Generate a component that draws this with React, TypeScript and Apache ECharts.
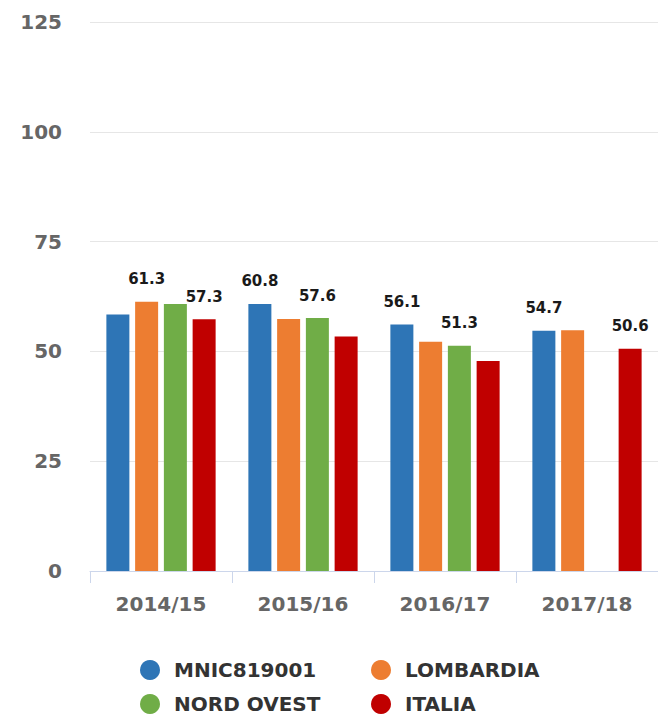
import React, { useEffect, useRef } from "react";
import * as echarts from "echarts";

const categories = ["2014/15", "2015/16", "2016/17", "2017/18"];
const seriesNames = ["MNIC819001", "LOMBARDIA", "NORD OVEST", "ITALIA"];
const colors = ["#2E75B6", "#ED7D31", "#70AD47", "#C00000"];
const mnicValues = [58.4, 60.8, 56.1, 54.7];
const lombardiaValues = [61.3, 57.4, 52.2, 54.8];
const nordOvestValues = [60.8, 57.6, 51.3, null];
const italiaValues = [57.3, 53.4, 47.8, 50.6];
// which data labels are visible (others hidden by overlap in the original)
const mnicLabels = [false, true, true, true];
const lombardiaLabels = [true, false, false, false];
const nordOvestLabels = [false, true, true, false];
const italiaLabels = [true, false, false, true];
const yTicks = [0, 25, 50, 75, 100, 125];

const FONT = "'DejaVu Sans', Verdana, sans-serif";

export default function App() {
  const ref = useRef<HTMLDivElement>(null);
  useEffect(() => {
    if (!ref.current) return;
    const chart = echarts.init(ref.current, null, { renderer: "svg" });
    const allValues = [mnicValues, lombardiaValues, nordOvestValues, italiaValues];
    const allLabels = [mnicLabels, lombardiaLabels, nordOvestLabels, italiaLabels];
    const series = seriesNames.map((name, i) => ({
      name,
      type: "bar",
      barWidth: 23,
      barGap: "25%",
      itemStyle: { color: colors[i] },
      data: allValues[i].map((v, j) => ({
        value: v,
        label: { show: v != null && allLabels[i][j] },
      })),
      label: {
        position: "top",
        distance: 15,
        formatter: (p: any) => Number(p.value).toFixed(1),
        color: "#1a1a1a",
        fontFamily: FONT,
        fontWeight: "bold",
        fontSize: 15,
        textBorderColor: "#ffffff",
        textBorderWidth: 1,
      },
    }));
    const legendPos = [
      { left: 140, top: 660 },
      { left: 371, top: 660 },
      { left: 140, top: 694 },
      { left: 371, top: 694 },
    ];
    const legends = seriesNames.map((name, i) => ({
      data: [name],
      left: legendPos[i].left,
      top: legendPos[i].top,
      padding: 0,
      icon: "circle",
      itemWidth: 38,
      itemHeight: 20,
      textStyle: {
        color: "#333333",
        fontFamily: FONT,
        fontWeight: "bold",
        fontSize: 20,
        lineHeight: 20,
      },
    }));
    chart.setOption({
      animation: false,
      backgroundColor: "#ffffff",
      textStyle: { fontFamily: FONT },
      grid: { left: 90, top: 22, width: 575, height: 549 },
      xAxis: {
        type: "category",
        data: categories,
        axisLine: { lineStyle: { color: "#ccd6eb", width: 1 } },
        axisTick: { show: true, length: 12, lineStyle: { color: "#ccd6eb" } },
        axisLabel: {
          color: "#666666",
          fontFamily: FONT,
          fontWeight: "bold",
          fontSize: 20,
          margin: 23,
        },
      },
      yAxis: {
        type: "value",
        min: yTicks[0],
        max: yTicks[yTicks.length - 1],
        interval: 25,
        axisLine: { show: false },
        axisTick: { show: false },
        splitLine: { lineStyle: { color: "#e6e6e6", width: 1 } },
        axisLabel: {
          color: "#666666",
          fontFamily: FONT,
          fontWeight: "bold",
          fontSize: 20,
          margin: 28,
        },
      },
      legend: legends,
      series,
    });
    return () => chart.dispose();
  }, []);
  return (
    <div
      ref={ref}
      style={{ position: "absolute", left: 0, top: 0, width: 658, height: 718 }}
    />
  );
}
